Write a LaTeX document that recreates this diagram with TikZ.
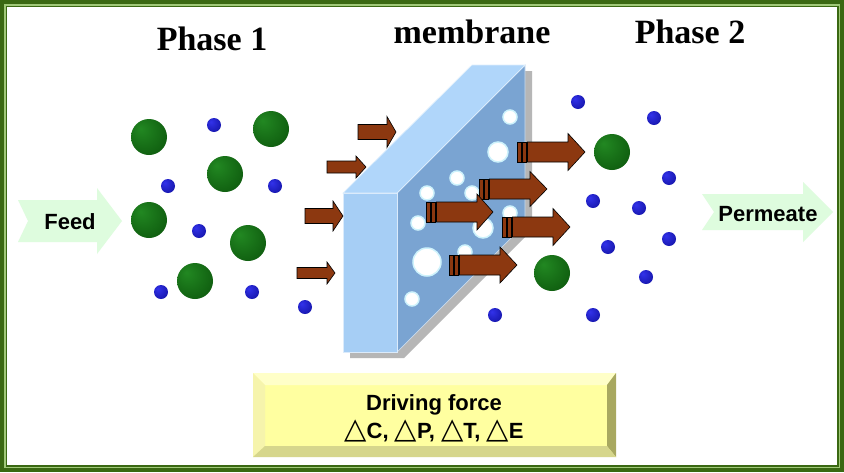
\documentclass[tikz,border=0pt]{standalone}
\usepackage{fontspec}
\setmainfont{Liberation Serif}
\newfontfamily\labelfont{Liberation Sans}
\newfontfamily\symbfont{DejaVu Sans}
\usetikzlibrary{positioning}

\definecolor{framegreen}{RGB}{58,104,18}
\definecolor{framelight}{RGB}{160,200,120}
\definecolor{arrowbrown}{RGB}{140,56,16}
\definecolor{mint}{RGB}{222,252,222}
\definecolor{frontblue}{RGB}{166,206,245}
\definecolor{topblue}{RGB}{176,214,250}
\definecolor{sideblue}{RGB}{122,164,210}
\definecolor{shadowgray}{RGB}{182,182,182}
\definecolor{holering}{RGB}{205,242,252}
\definecolor{boxface}{RGB}{255,255,160}
\definecolor{boxtop}{RGB}{255,255,200}
\definecolor{boxleft}{RGB}{246,244,172}
\definecolor{boxright}{RGB}{168,168,96}
\definecolor{boxbottom}{RGB}{214,214,140}
\definecolor{gcore}{RGB}{34,136,34}
\definecolor{gedge}{RGB}{0,58,0}
\definecolor{bcore}{RGB}{50,50,235}
\definecolor{bedge}{RGB}{0,0,120}

\pgfdeclareradialshading{greensphere}{\pgfpoint{-12bp}{12bp}}{color(0bp)=(gcore); color(62bp)=(gedge)}
\pgfdeclareradialshading{bluesphere}{\pgfpoint{-12bp}{12bp}}{color(0bp)=(bcore); color(62bp)=(bedge)}

\newcommand{\dtri}{{\symbfont\mdseries\fontsize{29}{28}\selectfont △}}

\tikzset{
  titletext/.style={font=\bfseries\fontsize{34}{40}\selectfont, anchor=base},
  flowtext/.style={font=\labelfont\bfseries\fontsize{22}{26}\selectfont, anchor=base},
  flowarrow/.style={fill=mint},
  fluxarrow/.style={fill=arrowbrown, draw=black, line width=0.6},
  pore/.style={fill=white, draw=holering, line width=1.5},
}

\begin{document}
\begin{tikzpicture}[x=1pt, y=-1pt]
\useasboundingbox (0,0) rectangle (844,472);
\fill[white] (0,0) rectangle (844,472);
% frame
\draw[framegreen, line width=4] (2,2) rectangle (842,470);
\draw[framelight, line width=1.5] (4.75,4.75) rectangle (839.25,467.25);
\draw[framegreen, line width=1.5] (6.25,6.25) rectangle (837.75,465.75);

% titles
\node[titletext] (phase1) at (212,50) {Phase 1};
\node[titletext] (membrane) at (472,43) {membrane};
\node[titletext] (phase2) at (690,43) {Phase 2};

% feed and permeate
\fill[flowarrow] (18,200) -- (97,200) -- (97,188) -- (122,221) -- (97,254) -- (97,242) -- (18,242) -- (28,221) -- cycle;
\node[flowtext] (feed) at (70,229) {Feed};
\fill[flowarrow] (702,194) -- (803,194) -- (803,182) -- (833,212) -- (803,242) -- (803,230) -- (702,230) -- (714,212) -- cycle;
\node[flowtext] (permeate) at (768,221) {Permeate};

% molecules, phase 1
\foreach \px/\py in {149/137, 271/129, 225/174, 149/220, 248/243, 195/281}
  \shade[shading=greensphere] (\px,\py) circle (18);
\foreach \px/\py in {214/125, 168/186, 275/186, 199/231, 161/292, 252/292, 305/307}
  \shade[shading=bluesphere] (\px,\py) circle (7);

% molecules, phase 2
\foreach \px/\py in {612/152, 552/273}
  \shade[shading=greensphere] (\px,\py) circle (18);
\foreach \px/\py in {578/102, 654/118, 669/178, 593/201, 639/208, 669/239, 608/247, 646/277, 495/315, 593/315}
  \shade[shading=bluesphere] (\px,\py) circle (7);

% membrane
\fill[shadowgray] (350,199) -- (479,71) -- (532,71) -- (532,230) -- (404,358) -- (350,358) -- cycle;
\filldraw[fill=sideblue, draw=white!60!sideblue, line width=0.7] (397,193) -- (525,65) -- (525,224) -- (397,352) -- cycle;
\filldraw[fill=topblue, draw=white!60!topblue, line width=0.7] (343,193) -- (472,65) -- (525,65) -- (397,193) -- cycle;
\filldraw[fill=frontblue, draw=white!60!frontblue, line width=0.7] (343,193) rectangle (397,352);
\foreach \px/\py/\r in {510/117/7, 498/152/10, 457/178/7, 427/193/7, 472/193/7, 510/213/7, 418/223/7, 483/228/10, 427/262/14, 465/252/7, 412/299/7}
  \filldraw[pore] (\px,\py) circle (\r);

% flux in phase 1
\foreach \xa/\xb/\xc/\yy/\bh/\hh in {358/387/396/132/7.5/15.5, 327/356/366/167/6/11, 305/333/343/216/7.5/15, 297/327/335/273/5.5/11}
  \draw[fluxarrow] (\xa,\yy-\bh) -- (\xb,\yy-\bh) -- (\xb,\yy-\hh) -- (\xc,\yy) -- (\xb,\yy+\hh) -- (\xb,\yy+\bh) -- (\xa,\yy+\bh) -- cycle;

% flux through membrane
\foreach \xs/\xb/\xc/\yy/\hh in {517/568/585/152/18.5, 479/530/547/189/17.5, 426/477/493/212/18, 502/553/570/227/18.5, 449/500/517/265/18}{
  \draw[fluxarrow] (\xs,\yy-10) rectangle ++(4.5,20);
  \draw[fluxarrow] (\xs+5,\yy-10) rectangle ++(4.5,20);
  \draw[fluxarrow] (\xs+10.5,\yy-10) -- (\xb,\yy-10) -- (\xb,\yy-\hh) -- (\xc,\yy) -- (\xb,\yy+\hh) -- (\xb,\yy+10) -- (\xs+10.5,\yy+10) -- cycle;
}

% driving force box
\fill[boxface] (253,373) rectangle (616,457);
\fill[boxtop] (253,373) -- (616,373) -- (607,385) -- (265,385) -- cycle;
\fill[boxleft] (253,373) -- (265,385) -- (265,446) -- (253,457) -- cycle;
\fill[boxright] (616,373) -- (616,457) -- (607,446) -- (607,385) -- cycle;
\fill[boxbottom] (253,457) -- (265,446) -- (607,446) -- (616,457) -- cycle;
\node[font=\labelfont\bfseries\fontsize{22}{28}\selectfont, align=center] (force) at (434,418)
  {Driving force\\\dtri C, \dtri P, \dtri T, \dtri E};
\end{tikzpicture}
\end{document}
